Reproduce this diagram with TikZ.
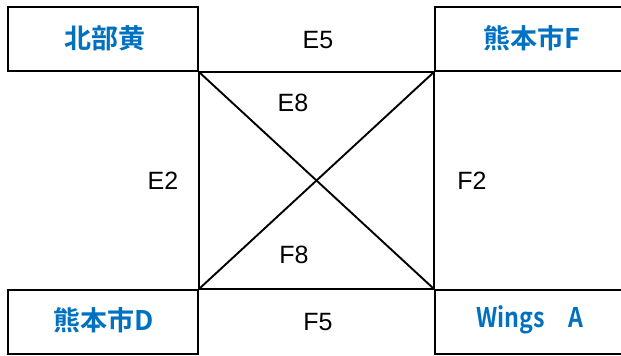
\documentclass[tikz,border=0pt]{standalone}
\usepackage{graphicx}
\usepackage{fontspec}
\setmainfont{Liberation Sans}
\newfontfamily\cjkb[BoldFont=* Bold]{Noto Sans CJK JP}
\definecolor{officeblue}{RGB}{0,112,192}
\begin{document}
\begin{tikzpicture}[x=1pt,y=-1pt,
  ln/.style={line width=2.3pt,black},
  box/.style={ln,draw,rectangle,inner sep=0pt,minimum height=64pt},
  blue/.style={text=officeblue,font=\cjkb\bfseries\fontsize{27}{30}\selectfont,inner sep=0pt},
  lab/.style={font=\fontsize{25}{28}\selectfont,inner sep=0pt}]
\useasboundingbox (0,0) rectangle (621,356);
\clip (0,0) rectangle (621,356);
% boxes
\node[box,minimum width=190pt] (tl) at (103,39) {};
\node[box,minimum width=210pt] (tr) at (540,39) {};
\node[box,minimum width=190pt] (bl) at (103,322) {};
\node[box,minimum width=210pt] (br) at (540,322) {};
% square and diagonals
\draw[ln] (tl.south east) -- (tr.south west);
\draw[ln] (bl.north east) -- (br.north west);
\draw[ln] (tl.south east) -- (bl.north east);
\draw[ln] (tr.south west) -- (br.north west);
\draw[ln,line width=1.9pt] (tl.south east) -- (br.north west);
\draw[ln,line width=1.9pt] (tr.south west) -- (bl.north east);
% blue labels
\node[blue] (t1) at (105,38) {北部黄};
\node[blue] (t2) at (532,38) {熊本市F};
\node[blue] (t3) at (104,320) {熊本市D};
\node[blue] (t4) at (530,320) {\scalebox{0.86}[1]{Wings　A}};
% black labels
\node[lab] (e5) at (318,40) {E5};
\node[lab] (e8) at (293,103) {E8};
\node[lab] (e2) at (163,181) {E2};
\node[lab] (f2) at (472,181) {F2};
\node[lab] (f8) at (294,255) {F8};
\node[lab] (f5) at (318,322) {F5};
\end{tikzpicture}
\end{document}
